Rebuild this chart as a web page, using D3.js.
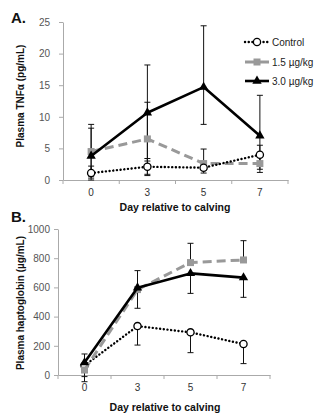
<!DOCTYPE html>
<html><head><meta charset="utf-8">
<script src="https://cdn.jsdelivr.net/npm/d3@7"></script>
<style>html,body{margin:0;padding:0;background:#fff;}svg{display:block;font-family:"Liberation Sans",Arial,sans-serif;}</style>
</head><body>
<svg id="c" width="328" height="420"></svg>
<script>
// ---------- DATA ----------
const days = ["0", "3", "5", "7"];
const seriesNames = ["Control", "1.5 µg/kg", "3.0 µg/kg"];

// Panel A: Plasma TNFα (pg/mL)
const tnfTicks = [0, 5, 10, 15, 20, 25];
const tnfControl = [1.1, 2.1, 1.95, 4.0];
const tnfControlLo = [0.3, 0.7, 1.1, 2.6];
const tnfControlHi = [2.2, 3.4, 2.8, 5.5];
const tnf15 = [4.5, 6.5, 2.6, 2.6];
const tnf15Lo = [0.6, 0.9, 1.6, 1.2];
const tnf15Hi = [8.8, 12.3, 4.9, 4.0];
const tnf30 = [3.8, 10.65, 14.7, 7.0];
const tnf30Lo = [0.0, 3.0, 8.8, 1.7];
const tnf30Hi = [8.2, 18.2, 24.4, 13.4];

// Panel B: Plasma haptoglobin (µg/mL)
const hpTicks = [0, 200, 400, 600, 800, 1000];
const hpControl = [65, 335, 292, 212];
const hpControlLo = [-46, 205, 153, 78];
const hpControlHi = [null, null, null, null];
const hp15 = [34, 585, 770, 788];
const hp15Lo = [null, null, null, null];
const hp15Hi = [144, 715, 902, 920];
const hp30 = [85, 598, 696, 667];
const hp30Lo = [-11, 457, 559, 532];
const hp30Hi = [null, null, null, null];

// ---------- DRAW ----------
const svg = d3.select("#c");
const styles = [
  {color: "#000", width: 2.4, dash: "0.1 3.6", cap: "round", marker: "circle"},
  {color: "#999", width: 3, dash: "9 5", cap: "butt", marker: "square"},
  {color: "#000", width: 2.6, dash: null, cap: "butt", marker: "triangle"}
];

function panel(cfg) {
  const g = svg.append("g");
  const x = d3.scaleBand().domain(days).range([cfg.x0, cfg.x1]).padding(0);
  const y = d3.scaleLinear().domain([0, cfg.ymax]).range([cfg.yb, cfg.yt]);
  const cx = d => x(d) + x.bandwidth() / 2;

  // y axis
  const ya = g.append("g").attr("transform", `translate(${cfg.x0},0)`)
    .call(d3.axisLeft(y).tickValues(cfg.ticks).tickFormat(d3.format("d")).tickSize(4).tickPadding(cfg.tickPad).tickSizeOuter(0));
  ya.select(".domain").attr("stroke", "#aaa");
  ya.selectAll(".tick line").attr("stroke", "#aaa");
  ya.selectAll(".tick text").attr("fill", "#555").style("font-size", "10px").style("font-family", "Liberation Sans, Arial, sans-serif");

  // x axis
  const xa = g.append("g").attr("transform", `translate(0,${cfg.yb})`)
    .call(d3.axisBottom(x).tickSize(0).tickPadding(cfg.xPad).tickSizeOuter(0));
  xa.select(".domain").attr("stroke", "#aaa");
  xa.selectAll(".tick text").attr("fill", "#333").style("font-size", "10px").style("font-family", "Liberation Sans, Arial, sans-serif");
  const bounds = days.map(d => x(d)).concat([x.range()[1]]);
  xa.selectAll("line.bt").data(bounds).enter().append("line").attr("class", "bt")
    .attr("x1", d => d).attr("x2", d => d).attr("y1", 0).attr("y2", 4).attr("stroke", "#aaa");

  // error bars
  cfg.series.forEach((s) => {
    s.v.forEach((v, i) => {
      const lo = s.lo[i] == null ? v : s.lo[i];
      const hi = s.hi[i] == null ? v : s.hi[i];
      if (lo === hi) return;
      const X = cx(days[i]);
      g.append("line").attr("x1", X).attr("x2", X).attr("y1", y(lo)).attr("y2", y(hi)).attr("stroke", "#111").attr("stroke-width", 1);
      [lo, hi].forEach(e => {
        if (e === v) return;
        g.append("line").attr("x1", X - 3).attr("x2", X + 3).attr("y1", y(e)).attr("y2", y(e)).attr("stroke", "#111").attr("stroke-width", 1);
      });
    });
  });

  // lines + markers
  const line = d3.line().x((d, i) => cx(days[i])).y(d => y(d));
  cfg.order.forEach(k => {
    const s = cfg.series[k], st = styles[k];
    g.append("path").datum(s.v).attr("d", line).attr("fill", "none")
      .attr("stroke", st.color).attr("stroke-width", st.width)
      .attr("stroke-dasharray", st.dash).attr("stroke-linecap", st.cap).attr("stroke-linejoin", "round");
    s.v.forEach((v, i) => drawMarker(g, st.marker, cx(days[i]), y(v)));
  });

  // titles
  svg.append("text").attr("x", 11).attr("y", cfg.letterY).text(cfg.letter)
    .style("font-size", "15px").style("font-weight", "bold").attr("fill", "#111");
  svg.append("text").attr("transform", `translate(${cfg.ylabX},${cfg.ylabY}) rotate(-90)`)
    .attr("text-anchor", "middle").text(cfg.ylab).style("font-size", "10px").style("font-weight", "bold").attr("fill", "#111");
  svg.append("text").attr("x", cfg.xlabX).attr("y", cfg.xlabY).attr("text-anchor", "middle")
    .text("Day relative to calving").style("font-size", "10.5px").style("font-weight", "bold").attr("fill", "#111");
}

function drawMarker(g, type, X, Y) {
  if (type === "circle") {
    g.append("circle").attr("cx", X).attr("cy", Y).attr("r", 3.6).attr("fill", "#fff").attr("stroke", "#000").attr("stroke-width", 1.3);
  } else if (type === "square") {
    g.append("rect").attr("x", X - 3.5).attr("y", Y - 3.5).attr("width", 7).attr("height", 7).attr("fill", "#999");
  } else {
    g.append("path").attr("d", d3.symbol().type(d3.symbolTriangle).size(38)()).attr("transform", `translate(${X},${Y})`).attr("fill", "#000");
  }
}

panel({
  x0: 63, x1: 288, yt: 22, yb: 180, ymax: 25, ticks: tnfTicks, tickPad: 9, xPad: 9,
  series: [
    {v: tnfControl, lo: tnfControlLo, hi: tnfControlHi},
    {v: tnf15, lo: tnf15Lo, hi: tnf15Hi},
    {v: tnf30, lo: tnf30Lo, hi: tnf30Hi}
  ],
  order: [1, 2, 0],
  letter: "A.", letterY: 23, ylab: "Plasma TNFα (pg/mL)", ylabX: 24, ylabY: 96, xlabX: 175, xlabY: 211
});

panel({
  x0: 58, x1: 270, yt: 229, yb: 375, ymax: 1000, ticks: hpTicks, tickPad: 4, xPad: 9,
  series: [
    {v: hpControl, lo: hpControlLo, hi: hpControlHi},
    {v: hp15, lo: hp15Lo, hi: hp15Hi},
    {v: hp30, lo: hp30Lo, hi: hp30Hi}
  ],
  order: [0, 1, 2],
  letter: "B.", letterY: 222, ylab: "Plasma haptoglobin (µg/mL)", ylabX: 24, ylabY: 303, xlabX: 165, xlabY: 411
});

// legend
const leg = svg.append("g");
const legY = [42, 62, 81];
seriesNames.forEach((name, k) => {
  const st = styles[k];
  leg.append("line").attr("x1", 245).attr("x2", 269).attr("y1", legY[k]).attr("y2", legY[k])
    .attr("stroke", st.color).attr("stroke-width", st.width).attr("stroke-dasharray", k === 0 ? "0.1 3.6" : null).attr("stroke-linecap", st.cap);
  drawMarker(leg, st.marker, 257, legY[k]);
  leg.append("text").attr("x", 272).attr("y", legY[k] + 3.5).text(name).style("font-size", "10px").attr("fill", "#222");
});
</script>
</body></html>
